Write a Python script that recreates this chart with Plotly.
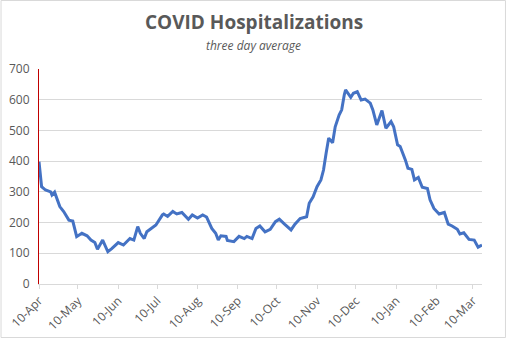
import plotly.graph_objects as go

dates = [
    "2020-04-10", "2020-04-12", "2020-04-15", "2020-04-19", "2020-04-20", "2020-04-22",
    "2020-04-26", "2020-04-29", "2020-05-03", "2020-05-06", "2020-05-09", "2020-05-13",
    "2020-05-17", "2020-05-20", "2020-05-23", "2020-05-25", "2020-05-29", "2020-06-02",
    "2020-06-05", "2020-06-10", "2020-06-14", "2020-06-19", "2020-06-22", "2020-06-25",
    "2020-06-27", "2020-06-30", "2020-07-02", "2020-07-06", "2020-07-09", "2020-07-14",
    "2020-07-15", "2020-07-18", "2020-07-22", "2020-07-25", "2020-07-29", "2020-08-03",
    "2020-08-06", "2020-08-10", "2020-08-14", "2020-08-17", "2020-08-21", "2020-08-24",
    "2020-08-26", "2020-08-28", "2020-09-01", "2020-09-02", "2020-09-07", "2020-09-11",
    "2020-09-15", "2020-09-17", "2020-09-21", "2020-09-24", "2020-09-27", "2020-10-01",
    "2020-10-05", "2020-10-09", "2020-10-12", "2020-10-16", "2020-10-21", "2020-10-24",
    "2020-10-28", "2020-11-02", "2020-11-04", "2020-11-07", "2020-11-10", "2020-11-13",
    "2020-11-15", "2020-11-17", "2020-11-19", "2020-11-22", "2020-11-24", "2020-11-27",
    "2020-11-29", "2020-12-01", "2020-12-02", "2020-12-06", "2020-12-08", "2020-12-11",
    "2020-12-14", "2020-12-17", "2020-12-21", "2020-12-23", "2020-12-26", "2020-12-30",
    "2021-01-02", "2021-01-06", "2021-01-08", "2021-01-11", "2021-01-13", "2021-01-17",
    "2021-01-19", "2021-01-22", "2021-01-24", "2021-01-27", "2021-01-30", "2021-02-03",
    "2021-02-05", "2021-02-08", "2021-02-12", "2021-02-16", "2021-02-19", "2021-02-22",
    "2021-02-26", "2021-02-28", "2021-03-03", "2021-03-07", "2021-03-11", "2021-03-14",
    "2021-03-17",
]

hospitalizations = [
    398, 317, 306, 300, 290, 299,
    252, 236, 208, 205, 154, 165,
    157, 143, 135, 113, 143, 105,
    115, 135, 127, 148, 143, 187,
    165, 148, 170, 181, 192, 225,
    228, 220, 236, 228, 233, 211,
    225, 215, 225, 218, 181, 165,
    143, 157, 155, 142, 138, 155,
    148, 155, 148, 181, 189, 170,
    178, 203, 211, 195, 176, 195,
    213, 219, 263, 284, 317, 339,
    371, 426, 475, 460, 512, 550,
    567, 616, 632, 608, 621, 626,
    599, 602, 589, 567, 518, 565,
    507, 529, 512, 453, 448, 404,
    377, 373, 339, 347, 315, 311,
    274, 246, 228, 233, 195, 189,
    178, 163, 167, 145, 143, 120,
    127,
]

tick_dates = [
    "2020-04-10", "2020-05-10", "2020-06-10", "2020-07-10", "2020-08-10", "2020-09-10",
    "2020-10-10", "2020-11-10", "2020-12-10", "2021-01-10", "2021-02-10", "2021-03-10",
]
tick_labels = [
    "10-Apr", "10-May", "10-Jun", "10-Jul", "10-Aug", "10-Sep",
    "10-Oct", "10-Nov", "10-Dec", "10-Jan", "10-Feb", "10-Mar",
]

title_text = "COVID Hospitalizations"
subtitle_text = "three day average"

FONT = "Open Sans"
TXT = "#595959"
GRID = "#d9d9d9"

fig = go.Figure()
fig.add_trace(go.Scatter(
    x=dates, y=hospitalizations, mode="lines",
    line=dict(color="#4472C4", width=3, shape="linear"),
    showlegend=False,
))

fig.update_layout(
    width=506, height=338,
    margin=dict(l=38.5, r=24, t=69, b=54, autoexpand=False),
    paper_bgcolor="white", plot_bgcolor="white",
    font=dict(family=FONT, size=12, color=TXT),
    xaxis=dict(
        type="date", range=["2020-04-10", "2021-03-17"],
        tickvals=tick_dates, ticktext=tick_labels, tickangle=-45,
        showgrid=False, showline=True, linecolor=GRID, linewidth=1,
        ticks="outside", ticklen=4, tickcolor=GRID,
        tickfont=dict(family=FONT, size=12, color=TXT),
        zeroline=False, automargin=False,
    ),
    yaxis=dict(
        range=[0, 700], dtick=100, tick0=0,
        showgrid=True, gridcolor=GRID, gridwidth=1,
        showline=True, linecolor="#c00000", linewidth=1.2,
        zeroline=False, ticks="", ticklabelstandoff=6,
        tickfont=dict(family=FONT, size=12, color=TXT),
        automargin=False,
    ),
    annotations=[
        dict(text="<b>" + title_text + "</b>", xref="paper", yref="paper",
             x=0.485, y=1.218, xanchor="center", yanchor="middle", showarrow=False,
             font=dict(family=FONT, size=19, color=TXT)),
        dict(text="<i>" + subtitle_text + "</i>", xref="paper", yref="paper",
             x=0.485, y=1.11, xanchor="center", yanchor="middle", showarrow=False,
             font=dict(family=FONT, size=12, color=TXT)),
    ],
    shapes=[
        dict(type="rect", xref="paper", yref="paper",
             x0=-0.0857, x1=1.053, y0=-0.2488, y1=1.3186,
             line=dict(color=GRID, width=1), layer="below"),
    ],
)

fig.write_html("out.html")
